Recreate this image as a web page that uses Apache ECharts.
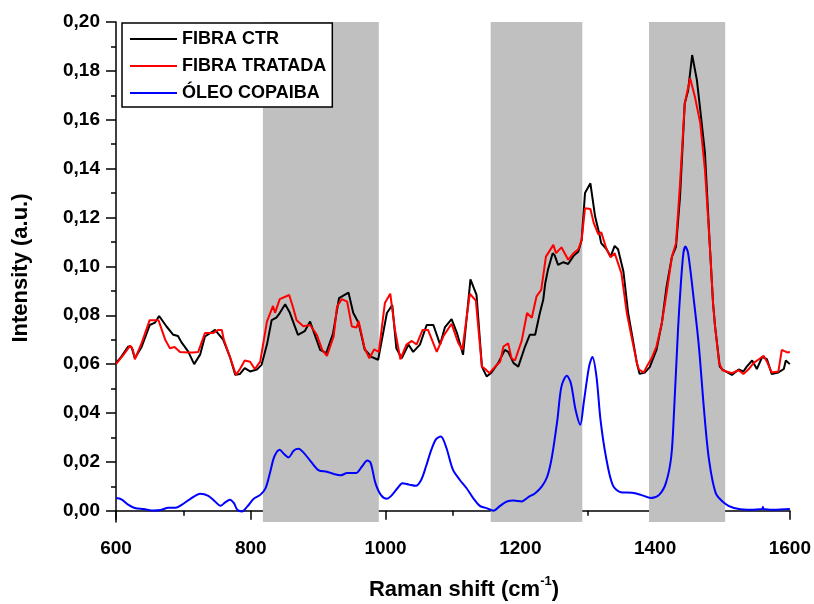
<!DOCTYPE html>
<html>
<head>
<meta charset="utf-8">
<script src="https://cdn.jsdelivr.net/npm/echarts@6/dist/echarts.min.js"></script>
<style>
html,body{margin:0;padding:0;background:#fff;}
#chart{width:814px;height:604px;}
</style>
</head>
<body>
<div id="chart"></div>
<script>
const seriesNames = ['FIBRA CTR', 'FIBRA TRATADA', 'ÓLEO COPAIBA'];
const xTickLabels = [600, 800, 1000, 1200, 1400, 1600];
const yTickLabels = [0, 0.02, 0.04, 0.06, 0.08, 0.10, 0.12, 0.14, 0.16, 0.18, 0.20];
const yMinorTicks = [0.01, 0.03, 0.05, 0.07, 0.09, 0.11, 0.13, 0.15, 0.17, 0.19];
const shadedBands = [[818, 990], [1156, 1292], [1391, 1504]];

const fibraCtr = [[600,0.0604],[608,0.0631],[618,0.0672],[623,0.067],[628,0.0624],[638,0.067],[650,0.076],[658,0.077],[664,0.0797],[675,0.0754],[685,0.072],[692,0.0715],[697,0.069],[707,0.0652],[716,0.060],[725,0.064],[732,0.0713],[747,0.074],[759,0.070],[769,0.063],[777,0.0556],[784,0.056],[791,0.0584],[799,0.057],[809,0.0578],[816,0.0597],[824,0.068],[831,0.078],[838,0.079],[843,0.0809],[851,0.0845],[858,0.081],[870,0.072],[880,0.0735],[888,0.0774],[895,0.072],[903,0.0658],[912,0.0645],[922,0.0725],[931,0.087],[945,0.0893],[952,0.081],[960,0.0768],[969,0.066],[979,0.063],[989,0.0618],[1002,0.0809],[1010,0.0842],[1016,0.0665],[1024,0.0624],[1034,0.068],[1041,0.065],[1051,0.068],[1061,0.076],[1071,0.076],[1081,0.068],[1088,0.075],[1098,0.0784],[1106,0.0727],[1115,0.0638],[1126,0.0947],[1135,0.0883],[1143,0.059],[1150,0.055],[1157,0.0565],[1167,0.0604],[1177,0.0658],[1182,0.065],[1190,0.0604],[1197,0.059],[1207,0.0672],[1214,0.072],[1222,0.072],[1229,0.0809],[1234,0.0863],[1237,0.0931],[1241,0.0986],[1248,0.1054],[1251,0.1045],[1256,0.1006],[1264,0.1017],[1271,0.101],[1279,0.1043],[1286,0.106],[1291,0.1108],[1296,0.130],[1304,0.134],[1311,0.1204],[1317,0.1136],[1320,0.1095],[1328,0.107],[1334,0.104],[1340,0.1084],[1345,0.107],[1353,0.0979],[1360,0.081],[1367,0.070],[1373,0.0604],[1377,0.056],[1385,0.0566],[1392,0.0588],[1402,0.0658],[1410,0.0768],[1417,0.0917],[1425,0.104],[1431,0.108],[1437,0.1285],[1444,0.1667],[1449,0.172],[1455,0.1865],[1462,0.1763],[1467,0.164],[1474,0.1463],[1481,0.1095],[1486,0.085],[1489,0.0754],[1496,0.059],[1500,0.0578],[1514,0.0556],[1524,0.0578],[1531,0.057],[1536,0.059],[1544,0.0615],[1551,0.058],[1559,0.063],[1566,0.062],[1573,0.056],[1583,0.0566],[1591,0.058],[1594,0.0615],[1600,0.060]];

const fibraTratada = [[600,0.060],[611,0.0638],[621,0.0676],[625,0.066],[628,0.062],[638,0.0686],[650,0.078],[663,0.078],[673,0.070],[680,0.0665],[687,0.067],[695,0.065],[707,0.0648],[714,0.0648],[722,0.065],[732,0.0727],[744,0.0727],[752,0.074],[757,0.074],[760,0.070],[769,0.063],[778,0.0556],[784,0.058],[791,0.0615],[799,0.061],[806,0.058],[814,0.061],[824,0.0774],[833,0.0838],[836,0.081],[843,0.0866],[857,0.0883],[863,0.083],[868,0.078],[878,0.0755],[888,0.076],[898,0.072],[906,0.0658],[913,0.0634],[923,0.0713],[928,0.0836],[935,0.0866],[943,0.0856],[950,0.0754],[957,0.075],[960,0.0777],[969,0.0665],[976,0.0624],[983,0.066],[990,0.065],[999,0.085],[1007,0.0888],[1014,0.074],[1022,0.062],[1031,0.068],[1039,0.0695],[1046,0.068],[1055,0.074],[1063,0.074],[1076,0.065],[1086,0.0715],[1098,0.0765],[1108,0.0686],[1114,0.0658],[1125,0.0888],[1134,0.086],[1143,0.059],[1148,0.058],[1154,0.0563],[1162,0.0588],[1170,0.061],[1175,0.0672],[1182,0.0685],[1187,0.0624],[1192,0.0615],[1202,0.0695],[1210,0.0809],[1217,0.079],[1224,0.0877],[1231,0.0904],[1238,0.104],[1249,0.1088],[1253,0.1054],[1261,0.1078],[1271,0.1027],[1279,0.1054],[1286,0.107],[1291,0.1108],[1296,0.1238],[1304,0.1235],[1309,0.1177],[1316,0.113],[1320,0.114],[1328,0.107],[1334,0.1037],[1340,0.1054],[1350,0.0972],[1358,0.081],[1365,0.0713],[1373,0.0604],[1376,0.0578],[1383,0.0566],[1390,0.0602],[1395,0.0625],[1402,0.0672],[1410,0.0768],[1417,0.089],[1425,0.104],[1431,0.1095],[1437,0.134],[1444,0.1667],[1452,0.177],[1459,0.1695],[1467,0.1586],[1474,0.1395],[1481,0.1095],[1486,0.085],[1489,0.0754],[1495,0.0604],[1500,0.0575],[1514,0.0563],[1524,0.0575],[1531,0.056],[1539,0.058],[1546,0.0604],[1554,0.062],[1561,0.0634],[1566,0.061],[1573,0.0566],[1583,0.057],[1588,0.0658],[1596,0.0648],[1600,0.065]];

const oleoCopaiba = [[600,0.0052],[608,0.0047],[618,0.0025],[628,0.0011],[641,0.0007],[656,0.0001],[666,0.0003],[678,0.0012],[688,0.0012],[698,0.0025],[710,0.0048],[725,0.007],[737,0.0061],[747,0.0038],[755,0.002],[762,0.0034],[769,0.0045],[775,0.0031],[780,0.0004],[787,-0.0003],[795,0.0018],[804,0.0048],[814,0.0065],[822,0.0093],[829,0.0161],[835,0.0222],[843,0.025],[849,0.0233],[856,0.0218],[864,0.0247],[871,0.0254],[879,0.0236],[889,0.0202],[901,0.0165],[913,0.016],[923,0.0151],[933,0.0145],[943,0.0154],[956,0.0154],[965,0.0181],[973,0.0206],[978,0.0195],[985,0.0113],[993,0.0065],[1002,0.0049],[1008,0.006],[1018,0.0093],[1025,0.0113],[1035,0.0107],[1045,0.0102],[1053,0.0127],[1060,0.0181],[1068,0.025],[1075,0.0293],[1082,0.0304],[1090,0.026],[1100,0.0168],[1110,0.0127],[1120,0.0093],[1130,0.0052],[1140,0.002],[1150,0.0011],[1160,0.0],[1170,0.002],[1180,0.0038],[1190,0.0042],[1202,0.0038],[1212,0.0056],[1222,0.0072],[1232,0.01],[1240,0.014],[1247,0.0222],[1255,0.0372],[1261,0.0508],[1269,0.0552],[1275,0.0522],[1282,0.0413],[1289,0.0352],[1294,0.044],[1302,0.059],[1307,0.0629],[1313,0.0549],[1319,0.0372],[1327,0.0222],[1337,0.0106],[1349,0.0076],[1366,0.0074],[1379,0.0065],[1394,0.0052],[1406,0.0065],[1416,0.0113],[1424,0.0222],[1428,0.04],[1434,0.074],[1438,0.092],[1442,0.1054],[1445,0.1081],[1449,0.1054],[1458,0.085],[1465,0.0672],[1473,0.04],[1480,0.0209],[1490,0.0072],[1503,0.0031],[1517,0.0011],[1537,0.0004],[1559,0.0007],[1560,0.0015],[1561,0.0007],[1576,0.0004],[1600,0.0007]];

const FONT = '"Liberation Sans", Arial, sans-serif';
const chart = echarts.init(document.getElementById('chart'), null, {renderer: 'canvas'});
const axisLineStyle = {color: '#000', width: 1.5};
const fmtY = v => v.toFixed(2).replace('.', ',');

chart.setOption({
  backgroundColor: '#fff',
  animation: false,
  grid: {left: 116, right: 24, top: 22, bottom: 82, containLabel: false},
  legend: {
    orient: 'vertical', left: 122, top: 23,
    padding: [6, 6, 4, 8], itemGap: 7, itemWidth: 47, itemHeight: 2,
    icon: 'rect',
    borderColor: '#000', borderWidth: 1.5, backgroundColor: '#fff',
    textStyle: {fontFamily: FONT, fontWeight: 'bold', fontSize: 18, color: '#000', lineHeight: 20},
    data: seriesNames
  },
  xAxis: {
    type: 'value', min: xTickLabels[0], max: xTickLabels[xTickLabels.length - 1], interval: 200,
    axisLine: {show: true, lineStyle: axisLineStyle},
    axisTick: {show: true, inside: false, length: 9, lineStyle: axisLineStyle},
    minorTick: {show: true, splitNumber: 2, length: 5, lineStyle: axisLineStyle},
    axisLabel: {margin: 17, fontFamily: FONT, fontWeight: 'bold', fontSize: 19, color: '#000', formatter: v => String(v)},
    splitLine: {show: false}, minorSplitLine: {show: false}
  },
  yAxis: [{
    type: 'value', min: -0.0046, max: 0.2, position: 'left',
    axisLine: {show: true, lineStyle: axisLineStyle},
    axisTick: {show: true, inside: false, length: 10, lineStyle: axisLineStyle, customValues: yTickLabels},
    axisLabel: {margin: 16, fontFamily: FONT, fontWeight: 'bold', fontSize: 19, color: '#000', formatter: fmtY, customValues: yTickLabels},
    splitLine: {show: false}
  }, {
    type: 'value', min: -0.0046, max: 0.2, position: 'left', offset: 0,
    axisLine: {show: false},
    axisTick: {show: true, inside: false, length: 5, lineStyle: axisLineStyle, customValues: yMinorTicks},
    axisLabel: {show: false},
    splitLine: {show: false}
  }],
  series: [{
    name: seriesNames[0], type: 'line', data: fibraCtr, symbol: 'none',
    lineStyle: {color: '#000', width: 2}, itemStyle: {color: '#000'},
    markArea: {
      silent: true,
      itemStyle: {color: '#c0c0c0'},
      data: shadedBands.map(b => [{xAxis: b[0]}, {xAxis: b[1]}])
    },
    z: 3
  }, {
    name: seriesNames[1], type: 'line', data: fibraTratada, symbol: 'none',
    lineStyle: {color: '#ff0000', width: 2}, itemStyle: {color: '#ff0000'}, z: 4
  }, {
    name: seriesNames[2], type: 'line', data: oleoCopaiba, symbol: 'none', smooth: 0.3,
    lineStyle: {color: '#0000ff', width: 2}, itemStyle: {color: '#0000ff'}, z: 4
  }],
  graphic: [{
    type: 'text', x: 21, y: 268, rotation: Math.PI / 2,
    style: {text: 'Intensity (a.u.)', font: 'bold 22px ' + FONT, fill: '#000', align: 'center', verticalAlign: 'middle'}
  }, {
    type: 'text', x: 464, y: 588,
    style: {
      text: '{a|Raman shift (cm}{s|-1}{a|)}', fill: '#000', align: 'center', verticalAlign: 'middle',
      rich: {
        a: {fontFamily: FONT, fontWeight: 'bold', fontSize: 22, lineHeight: 26, fill: '#000', verticalAlign: 'bottom'},
        s: {fontFamily: FONT, fontWeight: 'bold', fontSize: 13, lineHeight: 13, fill: '#000', verticalAlign: 'top'}
      }
    }
  }]
});
</script>
</body>
</html>
